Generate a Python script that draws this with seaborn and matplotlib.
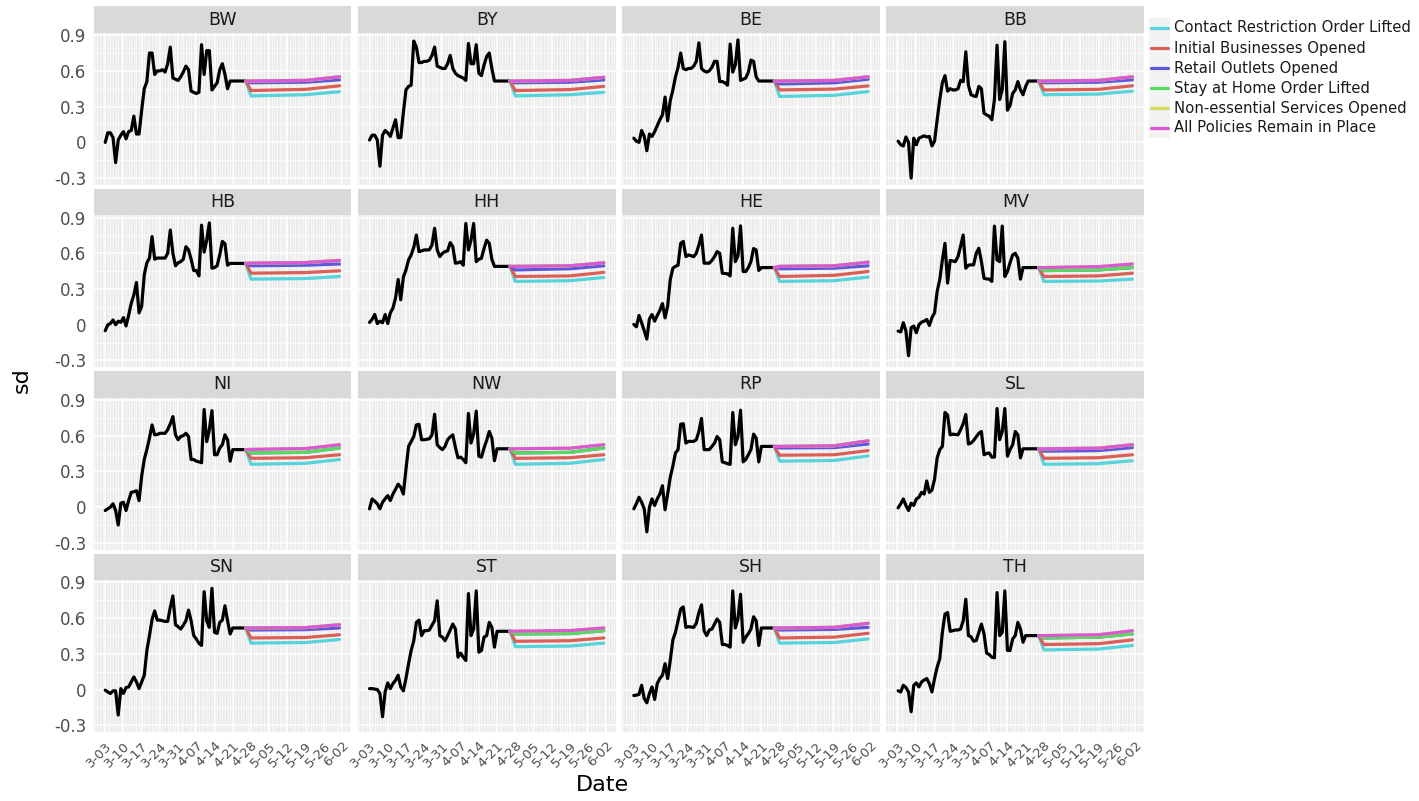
import numpy as np
import pandas as pd
import seaborn as sns
import matplotlib
matplotlib.use("Agg")
import matplotlib.pyplot as plt
import matplotlib.dates as mdates
from matplotlib.patches import Rectangle
from matplotlib.lines import Line2D

# ---- data ----
states = ["BW", "BY", "BE", "BB", "HB", "HH", "HE", "MV",
          "NI", "NW", "RP", "SL", "SN", "ST", "SH", "TH"]

scenarios = ["Contact Restriction Order Lifted", "Initial Businesses Opened",
             "Retail Outlets Opened", "Stay at Home Order Lifted",
             "Non-essential Services Opened", "All Policies Remain in Place"]
scenario_colors = ["#57d3db", "#db5f57", "#5f57db", "#57db5e", "#d3db57", "#db57d3"]

obs_dates = pd.date_range("2020-03-03", "2020-04-26")          # observed, daily
proj_dates = pd.to_datetime(["2020-04-28", "2020-05-19", "2020-06-01"])
week_ticks = pd.date_range("2020-03-03", "2020-06-02", freq="7D")

sd_BW = [0.00, 0.08, 0.08, 0.04, -0.17, 0.02, 0.06, 0.09, 0.03, 0.09,
         0.10, 0.22, 0.07, 0.07, 0.27, 0.45, 0.51, 0.75, 0.75, 0.57,
         0.60, 0.60, 0.61, 0.59, 0.66, 0.80, 0.54, 0.53, 0.52, 0.55,
         0.59, 0.64, 0.61, 0.43, 0.42, 0.41, 0.42, 0.82, 0.57, 0.77,
         0.77, 0.44, 0.47, 0.50, 0.61, 0.66, 0.57, 0.45,
         0.515, 0.515, 0.515, 0.515, 0.515, 0.515, 0.515]
sd_BY = [0.02, 0.06, 0.06, 0.02, -0.20, 0.06, 0.10, 0.08, 0.05, 0.12,
         0.19, 0.04, 0.04, 0.25, 0.44, 0.47, 0.48, 0.85, 0.80, 0.67,
         0.67, 0.68, 0.68, 0.69, 0.73, 0.80, 0.64, 0.63, 0.62, 0.62,
         0.66, 0.73, 0.62, 0.58, 0.56, 0.55, 0.54, 0.52, 0.83, 0.66,
         0.66, 0.82, 0.58, 0.56, 0.65, 0.72, 0.75, 0.62,
         0.515, 0.515, 0.515, 0.515, 0.515, 0.515, 0.515]
sd_BE = [0.035, 0.01, 0.0, 0.10, 0.05, -0.07, 0.07, 0.05, 0.09, 0.14,
         0.19, 0.23, 0.38, 0.18, 0.35, 0.44, 0.55, 0.63, 0.75, 0.62,
         0.61, 0.62, 0.62, 0.64, 0.68, 0.835, 0.62, 0.60, 0.59, 0.60,
         0.63, 0.68, 0.68, 0.51, 0.51, 0.50, 0.48, 0.825, 0.59, 0.65,
         0.86, 0.52, 0.53, 0.54, 0.59, 0.69, 0.68, 0.55,
         0.515, 0.515, 0.515, 0.515, 0.515, 0.515, 0.515]
sd_BB = [0.01, -0.02, -0.03, 0.045, 0.0, -0.30, 0.035, -0.02, 0.035, 0.045,
         0.055, 0.045, 0.05, -0.03, 0.01, 0.19, 0.36, 0.50, 0.56, 0.43,
         0.45, 0.44, 0.44, 0.45, 0.52, 0.51, 0.76, 0.48, 0.40, 0.39,
         0.385, 0.47, 0.45, 0.245, 0.23, 0.22, 0.19, 0.36, 0.816, 0.36,
         0.44, 0.845, 0.27, 0.31, 0.41, 0.44, 0.51, 0.44, 0.40, 0.47,
         0.515, 0.515, 0.515, 0.515, 0.515]
sd_HB = [-0.05, 0.0, 0.01, 0.04, 0.0, 0.03, 0.02, 0.06, -0.01, 0.08,
         0.18, 0.25, 0.355, 0.10, 0.155, 0.42, 0.52, 0.56, 0.74, 0.55,
         0.56, 0.56, 0.56, 0.56, 0.60, 0.795, 0.60, 0.495, 0.52, 0.53,
         0.55, 0.655, 0.63, 0.55, 0.455, 0.455, 0.41, 0.836, 0.61, 0.71,
         0.855, 0.475, 0.48, 0.495, 0.586, 0.70, 0.68, 0.50,
         0.515, 0.515, 0.515, 0.515, 0.515, 0.515, 0.515]
sd_HH = [0.02, 0.045, 0.086, 0.01, 0.03, 0.017, 0.086, 0.01, 0.10, 0.14,
         0.225, 0.38, 0.21, 0.40, 0.46, 0.545, 0.586, 0.65, 0.753, 0.614,
         0.62, 0.628, 0.628, 0.63, 0.67, 0.81, 0.628, 0.572, 0.60, 0.614,
         0.62, 0.69, 0.655, 0.517, 0.52, 0.53, 0.50, 0.85, 0.628, 0.71,
         0.85, 0.53, 0.55, 0.558, 0.64, 0.71, 0.683, 0.55,
         0.49, 0.49, 0.49, 0.49, 0.49, 0.49, 0.49]
sd_HE = [0.003, -0.017, 0.078, 0.017, -0.05, -0.12, 0.05, 0.086, 0.03, 0.078,
         0.12, 0.178, 0.058, 0.156, 0.378, 0.475, 0.49, 0.50, 0.683, 0.70,
         0.572, 0.586, 0.58, 0.572, 0.60, 0.67, 0.753, 0.517, 0.517, 0.517,
         0.54, 0.572, 0.614, 0.60, 0.433, 0.43, 0.428, 0.41, 0.81, 0.53,
         0.578, 0.83, 0.447, 0.447, 0.48, 0.53, 0.64, 0.628, 0.456,
         0.48, 0.48, 0.48, 0.48, 0.48, 0.48]
sd_MV = [-0.053, -0.06, 0.017, -0.053, -0.26, -0.025, -0.011, -0.067, 0.0, 0.022,
         0.03, 0.044, -0.006, 0.06, 0.10, 0.28, 0.378, 0.544, 0.683, 0.35,
         0.54, 0.535, 0.53, 0.572, 0.66, 0.753, 0.475, 0.50, 0.503, 0.503,
         0.60, 0.642, 0.53, 0.39, 0.385, 0.383, 0.364, 0.828, 0.544, 0.53,
         0.828, 0.405, 0.447, 0.52, 0.586, 0.60, 0.558, 0.383,
         0.48, 0.48, 0.48, 0.48, 0.48, 0.48, 0.48]
sd_NI = [-0.028, -0.014, 0.0, 0.028, -0.028, -0.15, 0.033, 0.041, -0.028, 0.055,
         0.124, 0.13, 0.138, 0.055, 0.26, 0.40, 0.483, 0.58, 0.69, 0.607,
         0.61, 0.62, 0.62, 0.62, 0.65, 0.70, 0.76, 0.607, 0.566, 0.593,
         0.60, 0.62, 0.593, 0.40, 0.40, 0.386, 0.38, 0.373, 0.82, 0.55,
         0.65, 0.81, 0.44, 0.44, 0.497, 0.524, 0.607, 0.566, 0.386,
         0.483, 0.483, 0.483, 0.483, 0.483, 0.483]
sd_NW = [-0.014, 0.069, 0.05, 0.028, -0.014, 0.041, 0.07, 0.097, 0.055, 0.11,
         0.15, 0.193, 0.166, 0.11, 0.317, 0.51, 0.55, 0.593, 0.69, 0.695,
         0.566, 0.566, 0.57, 0.574, 0.607, 0.78, 0.524, 0.50, 0.483, 0.51,
         0.566, 0.59, 0.607, 0.502, 0.414, 0.42, 0.40, 0.373, 0.787, 0.538,
         0.613, 0.806, 0.428, 0.42, 0.497, 0.56, 0.635, 0.58, 0.39,
         0.49, 0.49, 0.49, 0.49, 0.49, 0.49]
sd_RP = [-0.014, 0.03, 0.083, 0.041, -0.014, -0.207, 0.0, 0.069, 0.014, 0.069,
         0.11, 0.18, -0.022, 0.11, 0.25, 0.345, 0.455, 0.483, 0.696, 0.70,
         0.538, 0.552, 0.552, 0.552, 0.566, 0.635, 0.745, 0.483, 0.483, 0.483,
         0.51, 0.538, 0.593, 0.566, 0.38, 0.373, 0.365, 0.359, 0.795, 0.524,
         0.593, 0.814, 0.38, 0.40, 0.44, 0.483, 0.613, 0.58, 0.38,
         0.51, 0.51, 0.51, 0.51, 0.51, 0.51]
sd_SL = [-0.006, 0.028, 0.069, 0.014, -0.028, 0.033, 0.014, 0.069, 0.083, 0.124,
         0.11, 0.22, 0.124, 0.144, 0.235, 0.414, 0.483, 0.51, 0.795, 0.773,
         0.607, 0.613, 0.61, 0.607, 0.65, 0.70, 0.778, 0.53, 0.538, 0.56,
         0.59, 0.62, 0.635, 0.44, 0.45, 0.455, 0.42, 0.42, 0.828, 0.566,
         0.635, 0.828, 0.428, 0.483, 0.524, 0.635, 0.607, 0.414, 0.49,
         0.49, 0.49, 0.49, 0.49, 0.49, 0.49]
sd_SN = [-0.005, -0.02, -0.033, -0.011, -0.011, -0.214, 0.008, -0.033, 0.017, 0.022,
         0.064, 0.106, 0.064, 0.008, 0.064, 0.12, 0.328, 0.453, 0.59, 0.66,
         0.583, 0.583, 0.578, 0.572, 0.572, 0.69, 0.786, 0.544, 0.528, 0.508,
         0.54, 0.578, 0.667, 0.578, 0.453, 0.425, 0.389, 0.37, 0.822, 0.578,
         0.522, 0.85, 0.48, 0.472, 0.564, 0.583, 0.703, 0.578, 0.467,
         0.517, 0.517, 0.517, 0.517, 0.517, 0.517]
sd_ST = [0.008, 0.008, 0.004, 0.0, -0.033, -0.228, -0.02, 0.056, 0.008, 0.05,
         0.078, 0.12, 0.022, -0.011, 0.092, 0.217, 0.328, 0.41, 0.564, 0.583,
         0.453, 0.494, 0.494, 0.50, 0.54, 0.578, 0.745, 0.453, 0.44, 0.41,
         0.453, 0.50, 0.55, 0.508, 0.272, 0.306, 0.272, 0.244, 0.806, 0.453,
         0.508, 0.828, 0.314, 0.328, 0.44, 0.453, 0.564, 0.522, 0.356,
         0.489, 0.489, 0.489, 0.489, 0.489, 0.489]
sd_SH = [-0.05, -0.047, -0.04, 0.036, -0.075, -0.111, -0.033, 0.022, -0.083, 0.05,
         0.092, 0.12, 0.217, 0.092, 0.244, 0.417, 0.48, 0.578, 0.675, 0.694,
         0.522, 0.528, 0.525, 0.522, 0.556, 0.647, 0.711, 0.494, 0.453, 0.50,
         0.508, 0.55, 0.592, 0.564, 0.378, 0.378, 0.37, 0.356, 0.828, 0.517,
         0.592, 0.80, 0.397, 0.44, 0.47, 0.508, 0.611, 0.578, 0.37,
         0.517, 0.517, 0.517, 0.517, 0.517, 0.517]
sd_TH = [-0.01, -0.02, 0.036, 0.017, -0.02, -0.186, 0.036, 0.056, 0.022, 0.064,
         0.08, 0.092, 0.05, -0.02, 0.092, 0.189, 0.258, 0.48, 0.633, 0.647,
         0.489, 0.494, 0.50, 0.50, 0.508, 0.578, 0.758, 0.453, 0.444, 0.406,
         0.411, 0.48, 0.55, 0.467, 0.306, 0.294, 0.272, 0.267, 0.814, 0.453,
         0.48, 0.828, 0.328, 0.328, 0.425, 0.453, 0.564, 0.508, 0.397,
         0.453, 0.453, 0.453, 0.453, 0.453, 0.453]

observed = [sd_BW, sd_BY, sd_BE, sd_BB, sd_HB, sd_HH, sd_HE, sd_MV,
            sd_NI, sd_NW, sd_RP, sd_SL, sd_SN, sd_ST, sd_SH, sd_TH]

# projections per scenario, one (4-28, 5-19, 6-01) triple per state
contact_lifted = [(0.39, 0.40, 0.425), (0.39, 0.40, 0.42), (0.385, 0.395, 0.426), (0.40, 0.405, 0.43),
                  (0.383, 0.388, 0.405), (0.364, 0.37, 0.397), (0.364, 0.37, 0.40), (0.364, 0.367, 0.383),
                  (0.36, 0.368, 0.40), (0.36, 0.368, 0.40), (0.386, 0.392, 0.43), (0.36, 0.365, 0.39),
                  (0.39, 0.395, 0.42), (0.36, 0.365, 0.39), (0.39, 0.395, 0.425), (0.333, 0.34, 0.37)]
initial_business = [(0.435, 0.445, 0.475), (0.435, 0.443, 0.47), (0.44, 0.447, 0.474), (0.44, 0.445, 0.475),
                    (0.433, 0.438, 0.453), (0.405, 0.41, 0.44), (0.405, 0.415, 0.447), (0.405, 0.41, 0.433),
                    (0.41, 0.415, 0.44), (0.41, 0.415, 0.44), (0.436, 0.44, 0.475), (0.41, 0.415, 0.44),
                    (0.433, 0.437, 0.46), (0.405, 0.41, 0.433), (0.433, 0.44, 0.472), (0.378, 0.385, 0.417)]
retail_outlets = [(0.50, 0.505, 0.525), (0.50, 0.505, 0.524), (0.49, 0.50, 0.53), (0.50, 0.505, 0.525),
                  (0.495, 0.50, 0.51), (0.46, 0.47, 0.495), (0.47, 0.475, 0.495), (0.455, 0.46, 0.48),
                  (0.455, 0.46, 0.497), (0.455, 0.46, 0.497), (0.497, 0.50, 0.53), (0.47, 0.475, 0.50),
                  (0.50, 0.503, 0.517), (0.467, 0.47, 0.494), (0.50, 0.505, 0.522), (0.433, 0.44, 0.467)]
stay_home_lifted = [(0.515, 0.52, 0.55), (0.515, 0.52, 0.546), (0.515, 0.52, 0.55), (0.515, 0.52, 0.55),
                    (0.517, 0.522, 0.54), (0.49, 0.495, 0.52), (0.49, 0.495, 0.525), (0.455, 0.46, 0.48),
                    (0.455, 0.46, 0.497), (0.455, 0.46, 0.497), (0.51, 0.515, 0.557), (0.49, 0.495, 0.524),
                    (0.517, 0.52, 0.544), (0.467, 0.47, 0.494), (0.517, 0.522, 0.556), (0.433, 0.44, 0.467)]
nonessential = [(0.515, 0.52, 0.55), (0.515, 0.52, 0.546), (0.515, 0.52, 0.55), (0.515, 0.52, 0.55),
                (0.517, 0.522, 0.54), (0.49, 0.495, 0.52), (0.49, 0.495, 0.525), (0.48, 0.488, 0.51),
                (0.485, 0.492, 0.524), (0.49, 0.495, 0.524), (0.51, 0.515, 0.557), (0.49, 0.495, 0.524),
                (0.517, 0.52, 0.544), (0.49, 0.495, 0.517), (0.517, 0.522, 0.556), (0.453, 0.46, 0.494)]
all_policies = [(0.515, 0.52, 0.55), (0.515, 0.52, 0.546), (0.515, 0.52, 0.55), (0.515, 0.52, 0.55),
                (0.517, 0.522, 0.54), (0.49, 0.495, 0.52), (0.49, 0.495, 0.525), (0.48, 0.488, 0.51),
                (0.485, 0.492, 0.524), (0.49, 0.495, 0.524), (0.51, 0.515, 0.557), (0.49, 0.495, 0.524),
                (0.517, 0.52, 0.544), (0.49, 0.495, 0.517), (0.517, 0.522, 0.556), (0.453, 0.46, 0.494)]

projections = [contact_lifted, initial_business, retail_outlets,
               stay_home_lifted, nonessential, all_policies]

# ---- long tables for seaborn ----
obs_df = pd.concat([pd.DataFrame({"state": st, "date": obs_dates, "sd": vals})
                    for st, vals in zip(states, observed)], ignore_index=True)

rows = []
for scen, table in zip(scenarios, projections):
    for i, st in enumerate(states):
        dates = [obs_dates[-1]] + list(proj_dates)
        vals = [observed[i][-1]] + list(table[i])
        for d, v in zip(dates, vals):
            rows.append((st, d, v, scen))
proj_df = pd.DataFrame(rows, columns=["state", "date", "sd", "scenario"])

# ---- style ----
sns.set_theme(style="darkgrid")
plt.rcParams["font.family"] = ["DejaVu Sans"]
plt.rcParams["axes.facecolor"] = "#ebebeb"
plt.rcParams["grid.color"] = "white"

W, H = 1419, 801
fig = plt.figure(figsize=(W / 100, H / 100), dpi=100)
fig.patch.set_facecolor("white")

all_vals = pd.concat([obs_df["sd"], proj_df["sd"]])
ymin, ymax = all_vals.min(), all_vals.max()
yr = ymax - ymin
xmin, xmax = obs_dates[0], proj_dates[-1]
xpad = (xmax - xmin) * 0.05

panel_w, panel_h, strip_h = 257.7, 152.0, 26.6

for i, st in enumerate(states):
    r, c = divmod(i, 4)
    left = 93.5 + 264.3 * c
    top = 33.0 + 182.4 * r
    ax = fig.add_axes([left / W, 1 - (top + panel_h) / H, panel_w / W, panel_h / H])
    strip = fig.add_axes([left / W, 1 - top / H, panel_w / W, strip_h / H])
    strip.set_facecolor("#d9d9d9")
    strip.set_xticks([])
    strip.set_yticks([])
    for sp in strip.spines.values():
        sp.set_visible(False)
    strip.text(0.5, 0.5, st, ha="center", va="center", fontsize=12.5,
               color="#1a1a1a", transform=strip.transAxes)

    sns.lineplot(data=obs_df[obs_df["state"] == st], x="date", y="sd",
                 color="black", linewidth=2.3, errorbar=None, ax=ax)
    sns.lineplot(data=proj_df[proj_df["state"] == st], x="date", y="sd",
                 hue="scenario", hue_order=scenarios, palette=scenario_colors,
                 linewidth=2.3, errorbar=None, legend=False, ax=ax)

    ax.set_xlim(xmin - xpad, xmax + xpad)
    ax.set_ylim(ymin - 0.05 * yr, ymax + 0.05 * yr)
    ax.set_xticks(week_ticks)
    ax.xaxis.set_minor_locator(mdates.DayLocator())
    ax.set_yticks([-0.3, 0, 0.3, 0.6, 0.9])
    ax.set_yticks([-0.15, 0.15, 0.45, 0.75], minor=True)
    ax.grid(which="major", color="white", linewidth=1.1)
    ax.grid(which="minor", color="white", linewidth=0.45)
    ax.set_axisbelow(True)
    for sp in ax.spines.values():
        sp.set_visible(False)
    ax.set_xlabel("")
    ax.set_ylabel("")
    ax.tick_params(which="minor", length=0)
    ax.tick_params(which="major", length=3, width=0.8, color="#333333",
                   labelcolor="#4d4d4d", pad=2)

    if c == 0:
        ax.set_yticklabels(["-0.3", "0", "0.3", "0.6", "0.9"], fontsize=12)
    else:
        ax.tick_params(axis="y", left=False, labelleft=False)

    if r == 3:
        ax.set_xticklabels([f"{d.month}-{d.day:02d}" for d in week_ticks],
                           rotation=45, ha="right", rotation_mode="anchor", fontsize=9.5)
    else:
        ax.tick_params(axis="x", bottom=False, labelbottom=False)

# axis titles
fig.text(22 / W, 1 - 380 / H, "sd", rotation=90, ha="center", va="center",
         fontsize=16, color="black")
fig.text(602 / W, 1 - 785 / H, "Date", ha="center", va="center",
         fontsize=16, color="black")

# legend drawn by hand (ggplot style keys)
for k, (lab, col) in enumerate(zip(scenarios, scenario_colors)):
    yc = 28 + 20 * k
    fig.add_artist(Rectangle((1149 / W, 1 - (yc + 10) / H), 21 / W, 20 / H,
                             transform=fig.transFigure, facecolor="#f2f2f2",
                             edgecolor="none"))
    fig.add_artist(Line2D([1151 / W, 1168 / W], [1 - yc / H, 1 - yc / H],
                          transform=fig.transFigure, color=col, linewidth=2.3))
    fig.text(1174 / W, 1 - yc / H, lab, ha="left", va="center",
             fontsize=10.7, color="#1a1a1a")

fig.savefig("out.png", dpi=100)
